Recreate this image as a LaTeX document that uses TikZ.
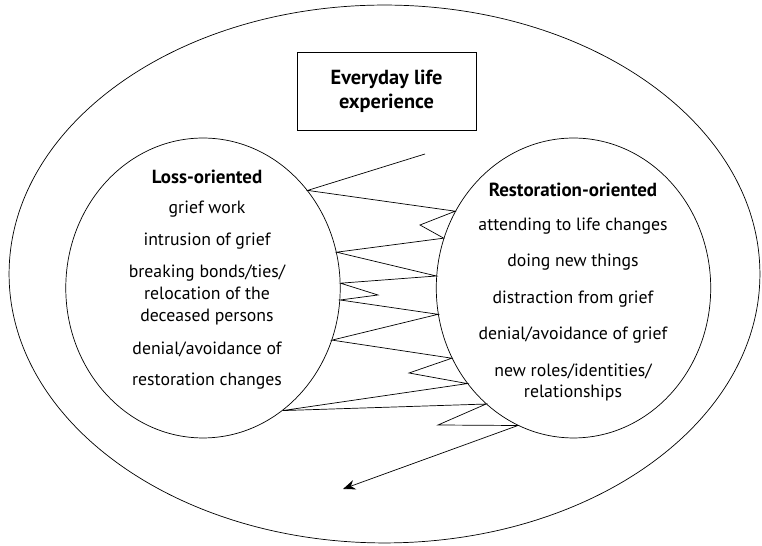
\documentclass[tikz,border=0pt]{standalone}
\usepackage{fontspec}
\setmainfont{PT Sans}
\usetikzlibrary{shapes.geometric,arrows.meta}

\tikzset{
    pole/.style={draw, ellipse, inner sep=0pt, minimum width=5.49cm, minimum height=6cm},
    item/.style={align=center, inner sep=0pt, font=\fontsize{10.1}{12.4}\selectfont},
    head/.style={align=center, inner sep=0pt, font=\fontsize{10.8}{12.4}\selectfont\bfseries},
}

\begin{document}
\begin{tikzpicture}[x=0.02cm, y=-0.02cm]

    \useasboundingbox (0, 0) rectangle (762, 546);

    \node[draw, ellipse, inner sep=0pt, minimum width=15.02cm, minimum height=10.76cm] (life) at (384.5, 274) {};
    \node[draw, inner sep=0pt, minimum width=3.58cm, minimum height=1.56cm, align=center, font=\fontsize{11.6}{13.6}\selectfont\bfseries] (everyday) at (386.5, 91) {Everyday life\\experience};

    \node[pole] (loss) at (203, 288) {};
    \node[pole] (resto) at (573.5, 288) {};

    % loss side
    \node[head] (lossHead) at (207, 177) {Loss-oriented};
    \node[item] (griefWork) at (207, 209) {grief work};
    \node[item] (intrusion) at (207, 241) {intrusion of grief};
    \node[item] (bonds) at (207, 295) {breaking bonds/ties/\\relocation of the\\deceased persons};
    \node[item] (denialLoss) at (207, 349) {denial/avoidance of};
    \node[item] (restoChanges) at (207, 381) {restoration changes};

    % restoration side
    \node[head] (restoHead) at (573, 190) {Restoration-oriented};
    \node[item] (attending) at (573, 226) {attending to life changes};
    \node[item] (newThings) at (573, 262) {doing new things};
    \node[item] (distraction) at (573, 299) {distraction from grief};
    \node[item] (denialGrief) at (573, 335) {denial/avoidance of grief};
    \node[item] (newRoles) at (573, 382.5) {new roles/identities/\\relationships};

    % oscillation
    \coordinate (start) at (425, 154);
    \coordinate (tipA) at (420, 225);
    \coordinate (tipB) at (378, 295);
    \coordinate (tipC) at (409, 373);
    \coordinate (tipD) at (438, 425);
    \coordinate (finish) at (343, 489);

    \draw[-{Stealth[length=7pt, width=5.5pt]}] (start) -- (loss.43.9) -- (resto.147) -- (tipA) -- (resto.159) -- (loss.15.3) -- (resto.175.8) -- (loss.2.9) -- (tipB) -- (loss.-5.4) -- (resto.191.9) -- (loss.-22.7) -- (resto.210.6) -- (tipC) -- (resto.222) -- (loss.-57) -- (resto.233.4) -- (tipD) -- (resto.248.4) -- (finish);

\end{tikzpicture}
\end{document}
